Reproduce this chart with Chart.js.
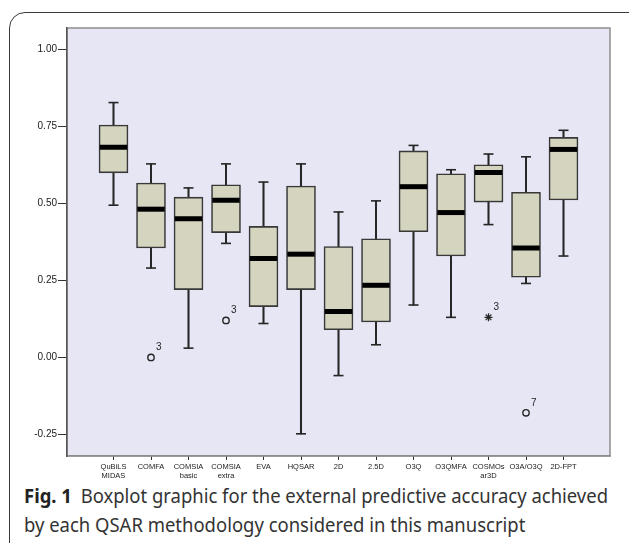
<!DOCTYPE html>
<html>
<head>
<meta charset="utf-8">
<script src="https://cdn.jsdelivr.net/npm/chart.js@4.4.1/dist/chart.umd.min.js"></script>
<style>
    html, body { margin: 0; padding: 0; background: #fff; }
    #page { position: relative; width: 629px; height: 543px; overflow: hidden; background: #fff; }
    #card { position: absolute; left: 9px; top: 12px; width: 650px; height: 580px; border: 1.5px solid #3a3a3a; border-radius: 16px; box-sizing: border-box; }
    #chart { position: absolute; left: 0; top: 0; }
    #caption { position: absolute; left: 24px; top: 482px; font-family: "Noto Sans", sans-serif; font-size: 19px; line-height: 29px; color: #333; white-space: nowrap; }
    #caption .cl { transform-origin: left center; width: max-content; }
    #caption b { font-weight: 700; color: #222; margin-right: 9px; }
</style>
</head>
<body>
<div id="page">
    <div id="card"></div>
    <canvas id="chart" width="629" height="480"></canvas>
    <div id="caption">
        <div class="cl" id="cap1"><b>Fig. 1</b>Boxplot graphic for the external predictive accuracy achieved</div>
        <div class="cl" id="cap2">by each QSAR methodology considered in this manuscript</div>
    </div>
</div>
<script>
// --- DATA ---
const categories = [['QuBiLS', 'MIDAS'], 'COMFA', ['COMSIA', 'basic'], ['COMSIA', 'extra'], 'EVA', 'HQSAR',
    '2D', '2.5D', 'O3Q', 'O3QMFA', ['COSMOs', 'ar3D'], 'O3A/O3Q', '2D-FPT'];
const whiskerLow  = [0.494, 0.290, 0.030, 0.370, 0.110, -0.248, -0.059, 0.041, 0.170, 0.130, 0.431, 0.240, 0.329];
const quartile1   = [0.599, 0.355, 0.220, 0.405, 0.165, 0.220, 0.090, 0.115, 0.408, 0.329, 0.504, 0.260, 0.511];
const medians     = [0.682, 0.481, 0.450, 0.510, 0.321, 0.335, 0.149, 0.234, 0.554, 0.470, 0.600, 0.355, 0.675];
const quartile3   = [0.754, 0.566, 0.520, 0.560, 0.425, 0.556, 0.360, 0.385, 0.670, 0.596, 0.625, 0.536, 0.714];
const whiskerHigh = [0.827, 0.628, 0.550, 0.628, 0.569, 0.628, 0.472, 0.508, 0.688, 0.609, 0.660, 0.651, 0.737];

// outliers (circle) and extremes (star), by category index
const outlierCat   = [1, 3, 11];
const outlierVal   = [0.00, 0.12, -0.18];
const outlierLabel = ['3', '3', '7'];
const extremeCat   = [10];
const extremeVal   = [0.13];
const extremeLabel = ['3'];

const yTicks = [-0.25, 0.00, 0.25, 0.50, 0.75, 1.00];

// --- STYLE ---
const PLOT_BG = '#e6e6f5';
const BOX_FILL = '#d4d4bf';
const INK = '#262626';

// plot background + frame
const plotFrame = {
    id: 'plotFrame',
    beforeDraw(chart) {
        const { ctx, chartArea: a } = chart;
        ctx.save();
        ctx.fillStyle = PLOT_BG;
        ctx.fillRect(a.left, a.top, a.right - a.left, a.bottom - a.top);
        ctx.strokeStyle = '#8e8e8e';
        ctx.lineWidth = 1.5;
        ctx.strokeRect(a.left, a.top, a.right - a.left, a.bottom - a.top);
        ctx.restore();
    }
};

// case numbers next to outliers
const outlierText = {
    id: 'outlierText',
    afterDatasetsDraw(chart) {
        const { ctx } = chart;
        ctx.save();
        ctx.fillStyle = INK;
        ctx.font = '10px "Liberation Sans", Arial, sans-serif';
        ctx.textAlign = 'left';
        ctx.textBaseline = 'middle';
        [[4, outlierLabel], [5, extremeLabel]].forEach(([idx, labels]) => {
            chart.getDatasetMeta(idx).data.forEach((pt, i) => {
                ctx.fillText(labels[i], pt.x + 5, pt.y - 10);
            });
        });
        ctx.restore();
    }
};

const idx = categories.map((c, i) => i);

new Chart(document.getElementById('chart'), {
    type: 'bar',
    data: {
        datasets: [
            {   // whisker stems
                type: 'bar',
                data: idx.map(i => ({ x: i, y: [whiskerLow[i], whiskerHigh[i]] })),
                backgroundColor: INK,
                borderWidth: 0,
                barThickness: 1.4,
                grouped: false,
                order: 4
            },
            {   // boxes
                type: 'bar',
                data: idx.map(i => ({ x: i, y: [quartile1[i], quartile3[i]] })),
                backgroundColor: BOX_FILL,
                borderColor: '#383838',
                borderWidth: 1.6,
                borderSkipped: false,
                barThickness: 29,
                grouped: false,
                order: 3
            },
            {   // whisker caps
                type: 'scatter',
                data: idx.map(i => ({ x: i, y: whiskerLow[i] })).concat(idx.map(i => ({ x: i, y: whiskerHigh[i] }))),
                pointStyle: 'line',
                pointRadius: 5,
                pointBorderWidth: 1.6,
                pointBorderColor: INK,
                borderColor: INK,
                order: 2
            },
            {   // medians
                type: 'scatter',
                data: idx.map(i => ({ x: i, y: medians[i] })),
                pointStyle: 'line',
                pointRadius: 13.7,
                pointBorderWidth: 5,
                pointBorderColor: '#000',
                borderColor: '#000',
                order: 1
            },
            {   // outliers
                type: 'scatter',
                data: outlierCat.map((c, i) => ({ x: c, y: outlierVal[i] })),
                pointStyle: 'circle',
                pointRadius: 3.2,
                pointBorderWidth: 1.4,
                pointBorderColor: INK,
                pointBackgroundColor: 'rgba(0,0,0,0)',
                order: 0
            },
            {   // extremes
                type: 'scatter',
                data: extremeCat.map((c, i) => ({ x: c, y: extremeVal[i] })),
                pointStyle: 'star',
                pointRadius: 4,
                pointBorderWidth: 1.2,
                pointBorderColor: INK,
                order: 0
            }
        ]
    },
    options: {
        responsive: false,
        devicePixelRatio: 1,
        animation: false,
        events: [],
        layout: { padding: { top: 28, right: 19, bottom: 0, left: 0 } },
        plugins: {
            legend: { display: false },
            tooltip: { enabled: false }
        },
        scales: {
            x: {
                type: 'linear',
                min: -1.24,
                max: 13.24,
                offset: false,
                afterBuildTicks: s => { s.ticks = idx.map(i => ({ value: i })); },
                afterFit: s => { s.height = 24; },
                grid: { offset: false, drawOnChartArea: false, drawTicks: true, tickLength: 4, color: '#333', lineWidth: 1 },
                border: { display: true, color: '#8e8e8e', width: 1.5 },
                ticks: {
                    autoSkip: false,
                    maxRotation: 0,
                    padding: 3,
                    color: '#1a1a1a',
                    font: { family: '"Liberation Sans", Arial, sans-serif', size: 7.5, lineHeight: 1.15 },
                    callback: (v, i) => categories[i]
                }
            },
            y: {
                min: -0.32,
                max: 1.069,
                afterBuildTicks: s => { s.ticks = yTicks.map(v => ({ value: v })); },
                afterFit: s => { s.width = 67; },
                grid: { drawOnChartArea: false, drawTicks: true, tickLength: 9, color: '#333', lineWidth: 1 },
                border: { display: true, color: '#555', width: 1.5 },
                ticks: {
                    padding: 1,
                    color: '#1a1a1a',
                    font: { family: '"Liberation Sans", Arial, sans-serif', size: 10 },
                    callback: v => v.toFixed(2)
                }
            }
        }
    },
    plugins: [plotFrame, outlierText]
});

// squeeze caption lines to the printed width
(function fitCaption() {
    const line1 = document.getElementById('cap1');
    const line2 = document.getElementById('cap2');
    const k = 584 / line1.getBoundingClientRect().width;
    line1.style.transform = `scaleX(${k})`;
    line2.style.transform = `scaleX(${k})`;
})();
</script>
</body>
</html>
